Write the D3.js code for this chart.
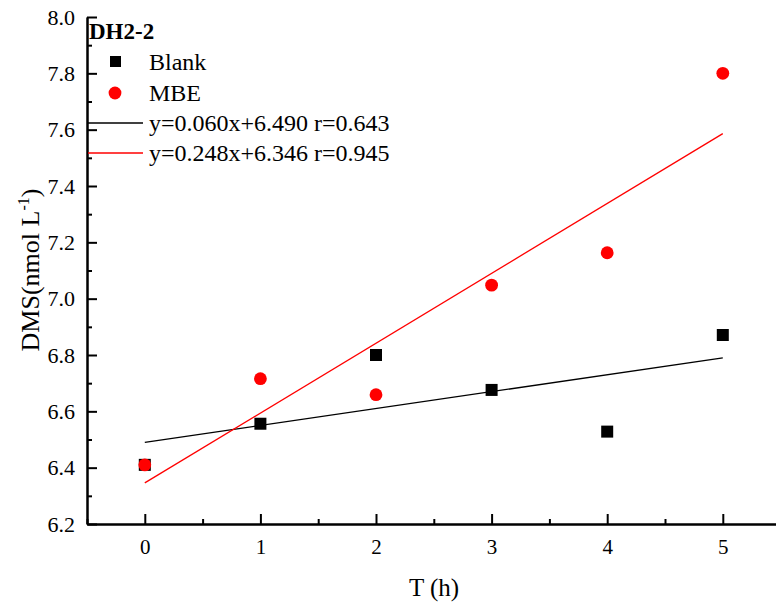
<!DOCTYPE html>
<html>
<head>
<meta charset="utf-8">
<script src="https://cdn.jsdelivr.net/npm/d3@7"></script>
<style>
  body { margin: 0; background: #fff; }
  text { font-family: "Liberation Serif", "Times New Roman", serif; fill: #000; }
  .axis path, .axis line { stroke: #000; stroke-width: 2; }
  .axis text { font-family: "Liberation Serif", serif !important; }
</style>
</head>
<body>
<div id="chart"></div>
<script>
// data
var hours = [0, 1, 2, 3, 4, 5];
var blank = [6.41, 6.556, 6.80, 6.676, 6.528, 6.871];
var mbe = [6.41, 6.716, 6.659, 7.048, 7.163, 7.80];

var fitNames = ["y=0.060x+6.490 r=0.643", "y=0.248x+6.346 r=0.945"];
var fitSlopes = [0.060, 0.248];
var fitIntercepts = [6.490, 6.346];
var fitColors = ["#000", "#ff0000"];

var xMajor = [0, 1, 2, 3, 4, 5],
    xMinor = [-0.5, 0.5, 1.5, 2.5, 3.5, 4.5, 5.5],
    yMajor = [6.2, 6.4, 6.6, 6.8, 7.0, 7.2, 7.4, 7.6, 7.8, 8.0],
    yMinor = [6.3, 6.5, 6.7, 6.9, 7.1, 7.3, 7.5, 7.7, 7.9];

var width = 776, height = 609;
var margin = {top: 17, left: 87, bottom: 85};

var x = d3.scaleLinear().domain([-0.5, 5.5]).range([margin.left, margin.left + 6 * 115.6]);
var y = d3.scaleLinear().domain([6.2, 8.0]).range([height - margin.bottom, margin.top]);

var svg = d3.select("#chart").append("svg")
    .attr("width", width)
    .attr("height", height);

// axes (ticks pointing inward)
svg.append("g")
    .attr("class", "axis")
    .attr("transform", "translate(0," + y(6.2) + ")")
    .call(d3.axisBottom(x).tickValues(xMinor).tickSize(-5).tickSizeOuter(0).tickFormat(""));
svg.append("g")
    .attr("class", "axis")
    .attr("transform", "translate(0," + y(6.2) + ")")
    .call(d3.axisBottom(x).tickValues(xMajor).tickSize(-10).tickSizeOuter(0).tickPadding(15).tickFormat(d3.format("d")))
    .selectAll("text").style("font-size", "21px");

svg.append("g")
    .attr("class", "axis")
    .attr("transform", "translate(" + x(-0.5) + ",0)")
    .call(d3.axisLeft(y).tickValues(yMinor).tickSize(-5).tickSizeOuter(0).tickFormat(""));
svg.append("g")
    .attr("class", "axis")
    .attr("transform", "translate(" + x(-0.5) + ",0)")
    .call(d3.axisLeft(y).tickValues(yMajor).tickSize(-10).tickSizeOuter(0).tickPadding(12).tickFormat(d3.format(".1f")))
    .selectAll("text").style("font-size", "22px");

// fitted lines
fitSlopes.forEach(function (s, i) {
    svg.append("line")
        .attr("x1", x(0)).attr("y1", y(fitIntercepts[i]))
        .attr("x2", x(5)).attr("y2", y(fitIntercepts[i] + s * 5))
        .attr("stroke", fitColors[i])
        .attr("stroke-width", 1.3);
});

// points
svg.selectAll(".blank")
    .data(hours)
    .enter().append("rect")
    .attr("class", "blank")
    .attr("x", function (d) { return x(d) - 6; })
    .attr("y", function (d, i) { return y(blank[i]) - 6; })
    .attr("width", 12)
    .attr("height", 12)
    .attr("fill", "#000");

svg.selectAll(".mbe")
    .data(hours)
    .enter().append("circle")
    .attr("class", "mbe")
    .attr("cx", function (d) { return x(d); })
    .attr("cy", function (d, i) { return y(mbe[i]); })
    .attr("r", 6.4)
    .attr("fill", "#ff0000");

// legend
svg.append("text")
    .attr("x", 89).attr("y", 39)
    .style("font-size", "23px").style("font-weight", "bold")
    .text("DH2-2");

svg.append("rect")
    .attr("x", 110).attr("y", 56).attr("width", 11).attr("height", 11)
    .attr("fill", "#000");
svg.append("text")
    .attr("x", 149).attr("y", 70)
    .style("font-size", "24px")
    .text("Blank");

svg.append("circle")
    .attr("cx", 115).attr("cy", 93).attr("r", 6.4)
    .attr("fill", "#ff0000");
svg.append("text")
    .attr("x", 149).attr("y", 101)
    .style("font-size", "24px")
    .text("MBE");

fitNames.forEach(function (name, i) {
    var ly = 123 + i * 30;
    svg.append("line")
        .attr("x1", 88).attr("x2", 143)
        .attr("y1", ly).attr("y2", ly)
        .attr("stroke", fitColors[i])
        .attr("stroke-width", 1.3);
    svg.append("text")
        .attr("x", 149).attr("y", ly + 8)
        .style("font-size", "24px")
        .text(name);
});

// axis titles
svg.append("text")
    .attr("x", 434).attr("y", 596)
    .attr("text-anchor", "middle")
    .style("font-size", "25px")
    .text("T (h)");

var yt = svg.append("text")
    .attr("transform", "translate(39,270) rotate(-90)")
    .attr("text-anchor", "middle")
    .style("font-size", "26px");
yt.append("tspan").text("DMS(nmol L");
yt.append("tspan").attr("dy", -10).style("font-size", "16px").text("-1");
yt.append("tspan").attr("dy", 10).text(")");
</script>
</body>
</html>
